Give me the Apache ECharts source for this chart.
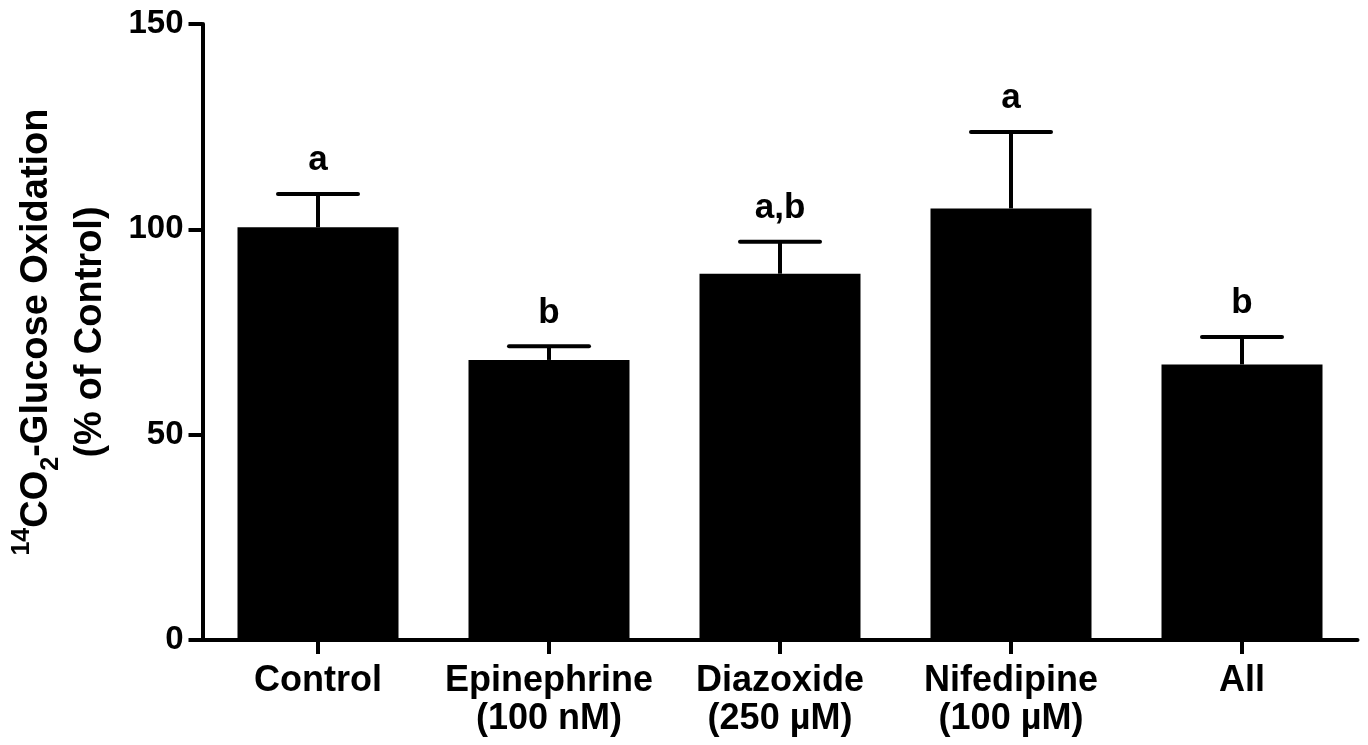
<!DOCTYPE html>
<html>
<head>
<meta charset="utf-8">
<script src="https://cdn.jsdelivr.net/npm/echarts@6/dist/echarts.min.js"></script>
<style>
html,body{margin:0;padding:0;background:#fff;}
#chart{width:1368px;height:745px;}
</style>
</head>
<body>
<div id="chart"></div>
<script>
const categories = ['Control', 'Epinephrine\n(100 nM)', 'Diazoxide\n(250 µM)', 'Nifedipine\n(100 µM)', 'All'];
const meanValues = [100.5, 68.2, 89.2, 105.1, 67.1];
const errorUpper = [108.6, 71.5, 97.0, 123.7, 73.8];
const sigLetters = ['a', 'b', 'a,b', 'a', 'b'];
const yTicks = [0, 50, 100, 150];

const FONT = '"Liberation Sans", Arial, Helvetica, sans-serif';
const chart = echarts.init(document.getElementById('chart'), null, {renderer: 'canvas'});

const option = {
  backgroundColor: '#fff',
  animation: false,
  grid: {left: 202.5, right: 10.5, top: 24, bottom: 105, containLabel: false},
  xAxis: {
    type: 'category',
    data: categories,
    axisLine: {show: true, lineStyle: {color: '#000', width: 4}},
    axisTick: {show: true, alignWithLabel: true, length: 14, lineStyle: {color: '#000', width: 4}},
    axisLabel: {
      color: '#000', fontFamily: FONT, fontWeight: 'bold', fontSize: 36,
      lineHeight: 38, margin: 22, interval: 0
    },
    splitLine: {show: false}
  },
  yAxis: {
    type: 'value',
    min: yTicks[0],
    max: yTicks[yTicks.length - 1],
    interval: 50,
    axisLine: {show: true, lineStyle: {color: '#000', width: 4}},
    axisTick: {show: true, length: 14, lineStyle: {color: '#000', width: 4}},
    axisLabel: {color: '#000', fontFamily: FONT, fontWeight: 'bold', fontSize: 33, margin: 19},
    splitLine: {show: false},
    name: '{sup|14}{b|CO}{sub|2}{b|-Glucose Oxidation}\n{b|(% of Control)}',
    nameLocation: 'middle',
    nameRotate: 90,
    nameGap: 84,
    nameTextStyle: {
      color: '#000', fontFamily: FONT, fontWeight: 'bold', fontSize: 38, lineHeight: 54,
      rich: {
        b: {color: '#000', fontFamily: FONT, fontWeight: 'bold', fontSize: 38, lineHeight: 54},
        sup: {color: '#000', fontFamily: FONT, fontWeight: 'bold', fontSize: 25, lineHeight: 40, verticalAlign: 'top'},
        sub: {color: '#000', fontFamily: FONT, fontWeight: 'bold', fontSize: 25, lineHeight: 30, verticalAlign: 'bottom'}
      }
    }
  },
  series: [
    {
      type: 'bar',
      data: meanValues,
      barWidth: 161,
      itemStyle: {color: '#000'},
      z: 2
    },
    {
      type: 'custom',
      z: 3,
      data: categories.map((c, i) => [i, meanValues[i], errorUpper[i]]),
      renderItem: function (params, api) {
        const idx = api.value(0);
        const base = api.coord([idx, api.value(1)]);
        const top = api.coord([idx, api.value(2)]);
        const capHalf = 40;
        return {
          type: 'group',
          children: [
            {type: 'line', shape: {x1: base[0], y1: base[1], x2: top[0], y2: top[1]},
             style: {stroke: '#000', lineWidth: 4}},
            {type: 'line', shape: {x1: top[0] - capHalf, y1: top[1], x2: top[0] + capHalf, y2: top[1]},
             style: {stroke: '#000', lineWidth: 4, lineCap: 'round'}},
            {type: 'text', x: top[0], y: top[1] - 16,
             style: {text: sigLetters[idx], fill: '#000', fontFamily: FONT, fontWeight: 'bold', fontSize: 35,
                     align: 'center', verticalAlign: 'bottom'}}
          ]
        };
      }
    }
  ]
};
chart.setOption(option);
</script>
</body>
</html>
